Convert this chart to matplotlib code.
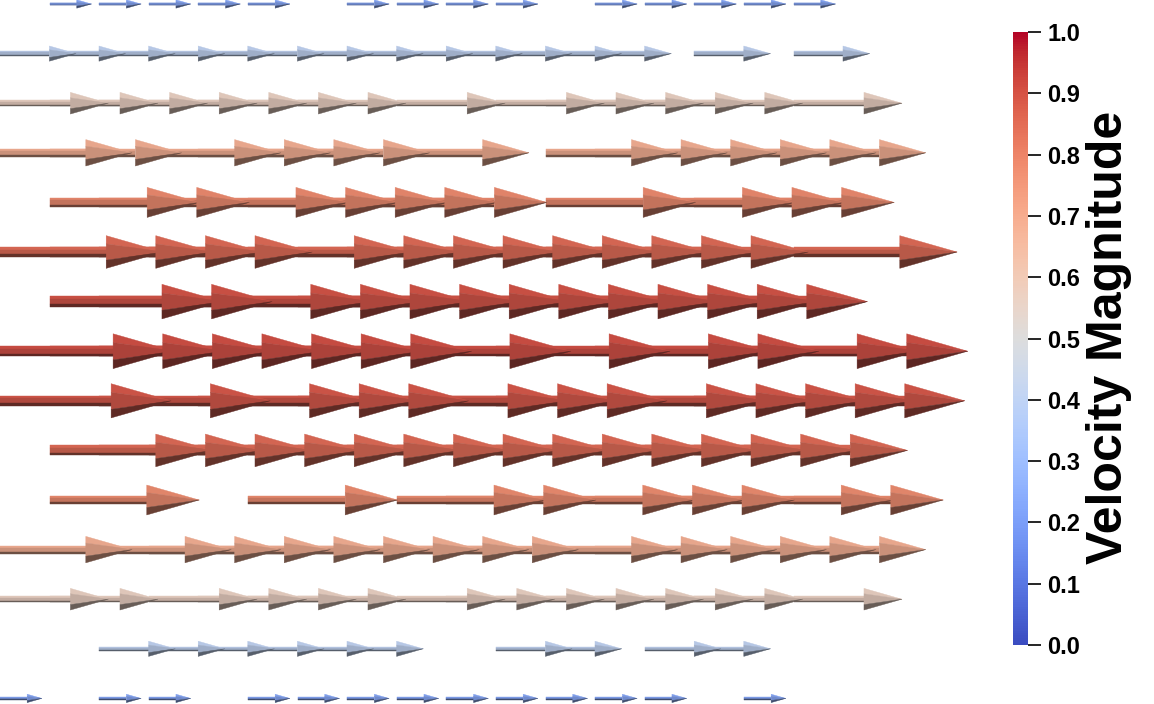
import numpy as np
import matplotlib
matplotlib.use("Agg")
import matplotlib.pyplot as plt
from matplotlib.collections import PolyCollection
from matplotlib.cm import ScalarMappable
from matplotlib.colors import Normalize

plt.rcParams['font.family'] = ['Liberation Sans', 'DejaVu Sans']

# velocity magnitude of each glyph row (top to bottom)
row_speed = [0.22, 0.40, 0.57, 0.695, 0.79, 0.86, 0.91, 0.916,
             0.90, 0.86, 0.787, 0.695, 0.57, 0.40, 0.22]

# grid columns where a glyph sits, one list per row
row_cols = [
    [1, 2, 3, 4, 5, 7, 8, 9, 10, 12, 13, 14, 15, 16],
    [0, 1, 2, 3, 4, 5, 6, 7, 8, 9, 10, 11, 12, 14, 16],
    [0, 1, 2, 3, 4, 5, 6, 8, 10, 11, 12, 13, 14, 16],
    [0, 1, 3, 4, 5, 6, 8, 11, 12, 13, 14, 15, 16],
    [1, 2, 4, 5, 6, 7, 8, 11, 13, 14, 15],
    [0, 1, 2, 3, 5, 6, 7, 8, 9, 10, 11, 12, 13, 16],
    [1, 2, 4, 5, 6, 7, 8, 9, 10, 11, 12, 13, 14],
    [0, 1, 2, 3, 4, 5, 6, 8, 10, 12, 13, 15, 16],
    [0, 2, 4, 5, 6, 8, 9, 10, 12, 13, 14, 15, 16],
    [1, 2, 3, 4, 5, 6, 7, 8, 9, 10, 11, 12, 13, 14, 15],
    [1, 5, 8, 9, 11, 12, 13, 15, 16],
    [0, 2, 3, 4, 5, 6, 7, 8, 9, 11, 12, 13, 14, 15, 16],
    [0, 1, 3, 4, 5, 6, 8, 9, 10, 11, 12, 13, 14, 16],
    [2, 3, 4, 5, 6, 7, 10, 11, 13, 14],
    [0, 2, 3, 5, 6, 7, 8, 9, 10, 11, 12, 13, 15],
]

cbar_ticks = [0.0, 0.1, 0.2, 0.3, 0.4, 0.5, 0.6, 0.7, 0.8, 0.9, 1.0]
cbar_title = "Velocity Magnitude"

# glyph geometry (paraview arrow defaults)
scale = 3.83
tip_len, tip_r, shaft_r = 0.35, 0.10, 0.03
shade = [0.90, 0.78, 0.40]   # top / middle / bottom facet
ambient = 0.035

cmap = plt.get_cmap('coolwarm')
norm = Normalize(0, 1)

W, H, cell = 1154, 704, 49.6
fig = plt.figure(figsize=(W / 100, H / 100), dpi=100)
ax = fig.add_axes([0, 0, 1, 1])
ax.set_xlim(0, W / cell)
ax.set_ylim((H - 4) / cell, -4 / cell)
ax.axis('off')


def bands(x0, x1, r, apex=False):
    # 3 visible facets of a hex prism / cone seen from the side
    edges = [-r, -0.5 * r, 0.5 * r, r]
    out = []
    for k in range(3):
        ya, yb = edges[k], edges[k + 1]
        if apex:
            out.append([(x0, ya), (x0, yb), (x1, 0)])
        else:
            out.append([(x0, ya), (x0, yb), (x1, yb), (x1, ya)])
    return out


polys, cols = [], []
for j, (v, cs) in enumerate(zip(row_speed, row_cols)):
    L = v * scale
    base = np.array(cmap(norm(v))[:3])
    fcs = [np.clip(base * s + ambient, 0, 1) for s in shade]
    heads = []
    for c in cs:
        x0 = c
        xb = x0 + (1 - tip_len) * L
        for p, fc in zip(bands(x0, xb, shaft_r * L), fcs):
            polys.append([(px, j + py) for px, py in p])
            cols.append(fc)
        for p, fc in zip(bands(xb, x0 + L, tip_r * L, apex=True), fcs):
            heads.append(([(px, j + py) for px, py in p], fc))
    for p, fc in heads:
        polys.append(p)
        cols.append(fc)

pc = PolyCollection(polys, facecolors=cols, edgecolors=cols, linewidths=0.3)
ax.add_collection(pc)

cax = fig.add_axes([1013 / W, (H - 645) / H, 15 / W, 613 / H])
cb = fig.colorbar(ScalarMappable(norm=norm, cmap=cmap), cax=cax, ticks=cbar_ticks)
cb.outline.set_visible(False)
cax.tick_params(length=9, width=1.2, labelsize=17, pad=5, color='black')
cax.set_yticklabels([f"{t:.1f}" for t in cbar_ticks], fontweight='bold')

fig.text(1109 / W, 1 - 337 / H, cbar_title, rotation=90, ha='center', va='center',
         fontsize=36, fontweight='bold')

fig.savefig('out.png', dpi=100)
